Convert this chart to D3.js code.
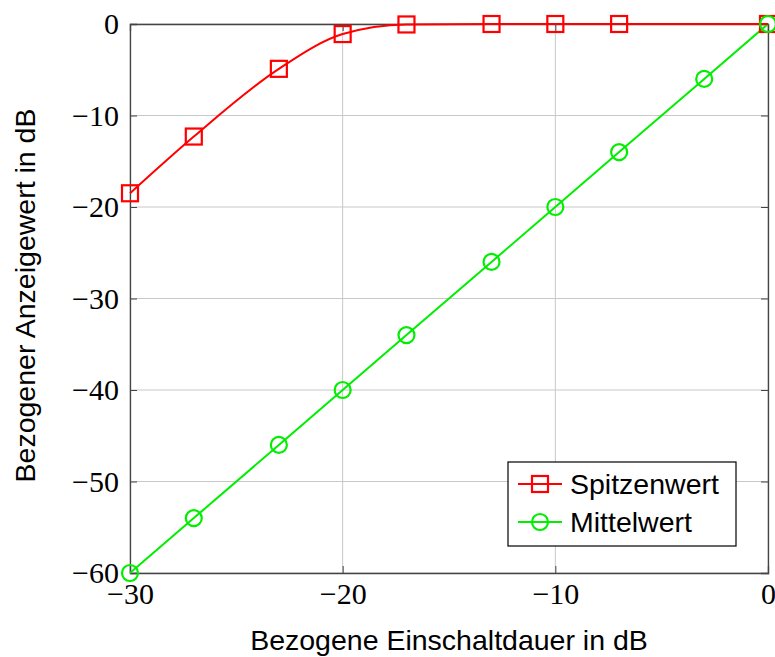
<!DOCTYPE html>
<html><head><meta charset="utf-8">
<script src="https://cdn.jsdelivr.net/npm/d3@7"></script>
<style>body{margin:0;background:#fff}</style>
</head><body>
<script>
const spitzenX = [-30, -27, -23, -20, -17, -13, -10, -7, 0];
const spitzenY = [-18.5, -12.3, -4.9, -1.1, -0.05, 0, 0, 0, 0];
const mittelX = [-30, -27, -23, -20, -17, -13, -10, -7, -3, 0];
const mittelY = [-60, -54, -46, -40, -34, -26, -20, -14, -6, 0];
const xTicks = [-30, -20, -10, 0];
const yTicks = [0, -10, -20, -30, -40, -50, -60];
const seriesNames = ["Spitzenwert", "Mittelwert"];
const xLabel = "Bezogene Einschaltdauer in dB";
const yLabel = "Bezogener Anzeigewert in dB";

const W = 775, H = 657;
const L = 130, R = 768, T = 24, B = 573;
const svg = d3.select("body").append("svg").attr("width", W).attr("height", H);
const x = d3.scaleLinear().domain([-30, 0]).range([L, R]);
const y = d3.scaleLinear().domain([-60, 0]).range([B, T]);
const fmt = d => d < 0 ? "\u2212" + Math.abs(d) : String(d);

// grid
const g = svg.append("g");
g.selectAll(".gx").data(xTicks).enter().append("line")
  .attr("x1", d => x(d)).attr("x2", d => x(d)).attr("y1", T).attr("y2", B)
  .attr("stroke", "#c8c8c8").attr("stroke-width", 1);
g.selectAll(".gy").data(yTicks).enter().append("line")
  .attr("x1", L).attr("x2", R).attr("y1", d => y(d)).attr("y2", d => y(d))
  .attr("stroke", "#c8c8c8").attr("stroke-width", 1);

// axes with inward ticks
const tk = 7;
const axB = svg.append("g").attr("transform", `translate(0,${B})`)
  .call(d3.axisBottom(x).tickValues(xTicks).tickSize(-tk).tickPadding(10).tickFormat(fmt));
const axT = svg.append("g").attr("transform", `translate(0,${T})`)
  .call(d3.axisTop(x).tickValues(xTicks).tickSize(-tk).tickFormat(""));
const axL = svg.append("g").attr("transform", `translate(${L},0)`)
  .call(d3.axisLeft(y).tickValues(yTicks).tickSize(-tk).tickPadding(11).tickFormat(fmt));
const axR = svg.append("g").attr("transform", `translate(${R},0)`)
  .call(d3.axisRight(y).tickValues(yTicks).tickSize(-tk).tickFormat(""));
[axB, axT, axL, axR].forEach(a => {
  a.select(".domain").attr("stroke", "#444").attr("stroke-width", 1.3);
  a.selectAll(".tick line").attr("stroke", "#444").attr("stroke-width", 1);
  a.selectAll("text").attr("font-family", "'Liberation Serif','DejaVu Serif',serif")
    .attr("font-size", 30).attr("fill", "#000");
});

// series
const red = "#ff0000", green = "#00ee00";
const redData = spitzenX.map((d, i) => [d, spitzenY[i]]);
const greenData = mittelX.map((d, i) => [d, mittelY[i]]);
svg.append("path").datum(greenData).attr("d", d3.line().x(d => x(d[0])).y(d => y(d[1])))
  .attr("fill", "none").attr("stroke", green).attr("stroke-width", 2);
svg.append("path").datum(redData).attr("d", d3.line().x(d => x(d[0])).y(d => y(d[1])).curve(d3.curveMonotoneX))
  .attr("fill", "none").attr("stroke", red).attr("stroke-width", 2);
const sq = 16;
svg.selectAll(".sq").data(redData).enter().append("rect")
  .attr("x", d => x(d[0]) - sq / 2).attr("y", d => y(d[1]) - sq / 2)
  .attr("width", sq).attr("height", sq)
  .attr("fill", "none").attr("stroke", red).attr("stroke-width", 2.2);
svg.selectAll(".ci").data(greenData).enter().append("circle")
  .attr("cx", d => x(d[0])).attr("cy", d => y(d[1])).attr("r", 8)
  .attr("fill", "none").attr("stroke", green).attr("stroke-width", 2.2);

// labels
const sans = "'Liberation Sans',Arial,sans-serif";
svg.append("text").attr("x", (L + R) / 2).attr("y", 650).attr("text-anchor", "middle")
  .attr("font-family", sans).attr("font-size", 28.5).text(xLabel);
svg.append("text").attr("transform", `translate(35,${(T + B) / 2 - 3}) rotate(-90)`)
  .attr("text-anchor", "middle")
  .attr("font-family", sans).attr("font-size", 28.5).text(yLabel);

// legend
const lg = svg.append("g");
lg.append("rect").attr("x", 508).attr("y", 462).attr("width", 228).attr("height", 84)
  .attr("fill", "#fff").attr("stroke", "#000").attr("stroke-width", 1.2);
const rows = [
  {name: seriesNames[0], color: red, kind: "sq", cy: 484},
  {name: seriesNames[1], color: green, kind: "ci", cy: 522}
];
rows.forEach(r => {
  lg.append("line").attr("x1", 518).attr("x2", 562).attr("y1", r.cy).attr("y2", r.cy)
    .attr("stroke", r.color).attr("stroke-width", 2);
  if (r.kind === "sq") lg.append("rect").attr("x", 540 - 8).attr("y", r.cy - 8).attr("width", 16).attr("height", 16)
    .attr("fill", "none").attr("stroke", r.color).attr("stroke-width", 2.2);
  else lg.append("circle").attr("cx", 540).attr("cy", r.cy).attr("r", 8)
    .attr("fill", "none").attr("stroke", r.color).attr("stroke-width", 2.2);
  lg.append("text").attr("x", 570).attr("y", r.cy + 10)
    .attr("font-family", sans).attr("font-size", 28.5).text(r.name);
});
</script>
</body></html>
